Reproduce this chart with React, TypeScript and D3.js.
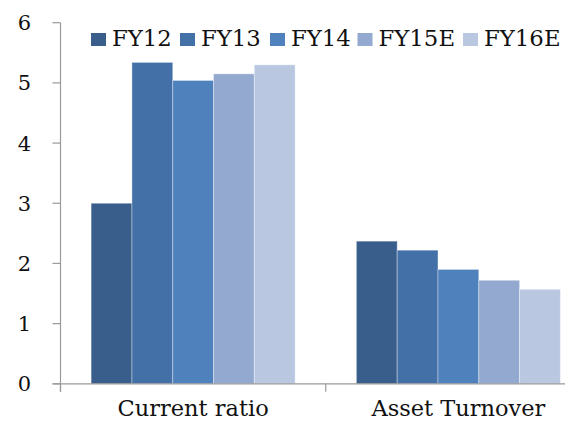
import React from 'react';
import * as d3 from 'd3';

// Chart data
const categories = ['Current ratio', 'Asset Turnover'];
const seriesNames = ['FY12', 'FY13', 'FY14', 'FY15E', 'FY16E'];
const fy12 = [3.0, 2.37];
const fy13 = [5.34, 2.22];
const fy14 = [5.04, 1.9];
const fy15e = [5.15, 1.72];
const fy16e = [5.3, 1.57];
const yTicks = [0, 1, 2, 3, 4, 5, 6];

const seriesValues = [fy12, fy13, fy14, fy15e, fy16e];
const seriesColors = ['#3A5E8C', '#4371A7', '#4F81BD', '#93A9CF', '#B9C7E0'];

const W = 573;
const H = 423;
const FONT = '"DejaVu Serif", serif';
const AXIS = '#9A9A9A';

// plot geometry
const plotLeft = 60.5;
const plotTop = 22.7;
const plotBottom = 383.8;
const axisRightEnd = 565;
const bandRight = 591;

// legend item left edges
const legendX = [91, 180, 270, 357.5, 463];

export default function App() {
  const y = d3.scaleLinear().domain([0, 6]).range([plotBottom, plotTop]);
  const x0 = d3
    .scaleBand<string>()
    .domain(categories)
    .range([plotLeft, bandRight])
    .paddingInner(0.231)
    .paddingOuter(0.1155);
  const x1 = d3
    .scaleBand<string>()
    .domain(seriesNames)
    .range([0, x0.bandwidth()])
    .padding(0);
  const step = x0.step();
  const boundaries = d3
    .range(categories.length + 1)
    .map((i) => plotLeft + i * step)
    .filter((v) => v <= axisRightEnd);

  return (
    <div style={{ position: 'fixed', left: 0, top: 0, width: W, height: H, background: '#fff' }}>
      <svg width={W} height={H} style={{ display: 'block' }}>
        <rect width={W} height={H} fill="#fff" />
        {/* bars */}
        {categories.map((cat, ci) => (
          <g key={cat} transform={`translate(${x0(cat)},0)`}>
            {seriesNames.map((s, si) => {
              const v = seriesValues[si][ci];
              return (
                <rect
                  key={s}
                  x={x1(s)}
                  y={y(v)}
                  width={x1.bandwidth()}
                  height={y(0) - y(v)}
                  fill={seriesColors[si]}
                  stroke="rgba(255,255,255,0.35)"
                  strokeWidth={1}
                />
              );
            })}
          </g>
        ))}
        {/* y axis */}
        <line x1={plotLeft} x2={plotLeft} y1={plotTop} y2={plotBottom + 8} stroke={AXIS} strokeWidth={1.2} />
        {yTicks.map((t) => (
          <g key={t}>
            <line x1={plotLeft - 8} x2={plotLeft} y1={y(t)} y2={y(t)} stroke={AXIS} strokeWidth={1.2} />
            <text
              x={31}
              y={y(t)}
              dy="0.36em"
              textAnchor="end"
              fontFamily={FONT}
              fontSize={21}
              fill="#111"
            >
              {t}
            </text>
          </g>
        ))}
        {/* x axis */}
        <line x1={plotLeft - 8} x2={axisRightEnd} y1={plotBottom} y2={plotBottom} stroke={AXIS} strokeWidth={1.2} />
        {boundaries.map((b) => (
          <line key={b} x1={b} x2={b} y1={plotBottom} y2={plotBottom + 8} stroke={AXIS} strokeWidth={1.2} />
        ))}
        {categories.map((cat) => (
          <text
            key={cat}
            x={(x0(cat) as number) + x0.bandwidth() / 2}
            y={416}
            textAnchor="middle"
            fontFamily={FONT}
            fontSize={22.5}
            fill="#111"
          >
            {cat}
          </text>
        ))}
        {/* legend */}
        {seriesNames.map((s, si) => (
          <g key={s} transform={`translate(${legendX[si]},0)`}>
            <rect x={0} y={33} width={15} height={13} fill={seriesColors[si]} />
            <text x={21} y={46} fontFamily={FONT} fontSize={22.8} fill="#111">
              {s}
            </text>
          </g>
        ))}
      </svg>
    </div>
  );
}
